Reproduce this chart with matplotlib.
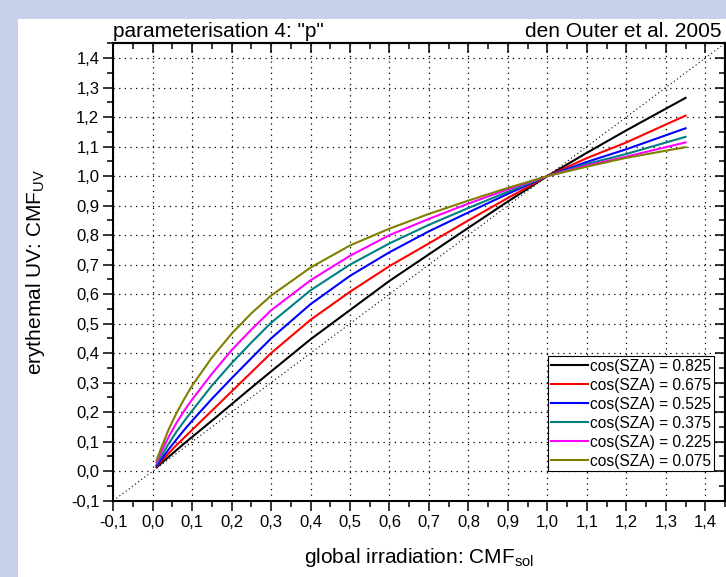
import matplotlib
matplotlib.use("Agg")
import matplotlib.pyplot as plt
from matplotlib.ticker import MultipleLocator, FuncFormatter
from matplotlib.patches import Rectangle

plt.rcParams['font.family'] = ['Liberation Sans', 'DejaVu Sans']
plt.rcParams['mathtext.fontset'] = 'custom'
plt.rcParams['mathtext.rm'] = 'Liberation Sans'
plt.rcParams['mathtext.it'] = 'Liberation Sans'

# values
cmf_sol = [0.01, 0.02, 0.04, 0.06, 0.08, 0.1, 0.15, 0.2, 0.25, 0.3, 0.4, 0.5,
           0.6, 0.7, 0.8, 0.9, 1.0, 1.1, 1.2, 1.35]
cmf_uv_0825 = [0.013, 0.025, 0.048, 0.071, 0.094, 0.116, 0.171, 0.227, 0.283, 0.338,
               0.447, 0.546, 0.645, 0.735, 0.825, 0.914, 1.0, 1.079, 1.155, 1.265]
cmf_uv_0675 = [0.016, 0.031, 0.060, 0.088, 0.114, 0.140, 0.205, 0.270, 0.335, 0.400,
               0.513, 0.608, 0.695, 0.772, 0.850, 0.926, 1.0, 1.061, 1.114, 1.205]
cmf_uv_0525 = [0.019, 0.037, 0.073, 0.107, 0.140, 0.171, 0.245, 0.315, 0.383, 0.450,
               0.566, 0.662, 0.742, 0.813, 0.877, 0.940, 1.0, 1.048, 1.091, 1.162]
cmf_uv_0375 = [0.024, 0.047, 0.092, 0.133, 0.170, 0.205, 0.290, 0.366, 0.436, 0.503,
               0.613, 0.700, 0.772, 0.835, 0.892, 0.947, 1.0, 1.041, 1.075, 1.133]
cmf_uv_0225 = [0.030, 0.060, 0.115, 0.163, 0.205, 0.243, 0.330, 0.410, 0.480, 0.545,
               0.647, 0.730, 0.800, 0.855, 0.907, 0.955, 1.0, 1.036, 1.066, 1.114]
cmf_uv_0075 = [0.037, 0.073, 0.140, 0.196, 0.245, 0.290, 0.385, 0.466, 0.535, 0.595,
               0.690, 0.765, 0.822, 0.872, 0.917, 0.960, 1.0, 1.032, 1.062, 1.098]

series = [cmf_uv_0825, cmf_uv_0675, cmf_uv_0525, cmf_uv_0375, cmf_uv_0225, cmf_uv_0075]
labels = ["cos(SZA) = 0.825", "cos(SZA) = 0.675", "cos(SZA) = 0.525",
          "cos(SZA) = 0.375", "cos(SZA) = 0.225", "cos(SZA) = 0.075"]
colors = ["#000000", "#ff0000", "#0000ff", "#008080", "#ff00ff", "#808000"]

fig = plt.figure(figsize=(7.26, 5.77), dpi=100, facecolor="#c8d0ec")
# white canvas, lavender frame only at left/top
fig.add_artist(Rectangle((18 / 726, 0), 1, 1 - 19 / 577, transform=fig.transFigure,
                         facecolor="white", edgecolor="none", zorder=-10))

ax = fig.add_axes([113.2 / 726, 76.3 / 577, 611.8 / 726, 457.4 / 577])
ax.set_xlim(-0.1, 1.45)
ax.set_ylim(-0.1, 1.45)

ax.grid(True, which="major", color="black", linestyle=(0, (1, 3.5)), linewidth=0.9)
ax.axline((0, 0), slope=1, color="black", linestyle=(0, (1, 2.5)), linewidth=0.8)

for y, lab, c in zip(series, labels, colors):
    ax.plot(cmf_sol, y, color=c, linewidth=1.5, label=lab)

fmt = FuncFormatter(lambda v, p: ("%.1f" % v).replace(".", ","))
for axis in (ax.xaxis, ax.yaxis):
    axis.set_major_locator(MultipleLocator(0.1))
    axis.set_minor_locator(MultipleLocator(0.05))
    axis.set_major_formatter(fmt)
ax.tick_params(which="major", direction="out", length=7, width=1.1, labelsize=12, pad=3)
ax.tick_params(which="minor", direction="out", length=4, width=1.1)
for s in ax.spines.values():
    s.set_linewidth(1.5)

# mirrored ticks on top and right point inwards
top = ax.secondary_xaxis("top")
right = ax.secondary_yaxis("right")
for sec, axis in ((top, top.xaxis), (right, right.yaxis)):
    axis.set_major_locator(MultipleLocator(0.1))
    axis.set_minor_locator(MultipleLocator(0.05))
    sec.tick_params(which="major", direction="in", length=7, width=1.1)
    sec.tick_params(which="minor", direction="in", length=4, width=1.1)
    sec.spines[:].set_linewidth(1.5)
top.tick_params(labeltop=False)
right.tick_params(labelright=False)

ax.set_xlabel(r"global irradiation: CMF$_{\mathrm{sol}}$", fontsize=15, labelpad=12)
ax.set_ylabel(r"erythemal UV: CMF$_{\mathrm{UV}}$", fontsize=15, labelpad=17)

ax.text(0.0, 1.004, 'parameterisation 4: "p"', transform=ax.transAxes,
        ha="left", va="bottom", fontsize=15)
ax.text(0.994, 1.004, "den Outer et al. 2005", transform=ax.transAxes,
        ha="right", va="bottom", fontsize=15)

leg = ax.legend(loc="lower right", bbox_to_anchor=(1.4217, 0.0),
                bbox_transform=ax.transData, borderaxespad=0, fontsize=11.2,
                handlelength=2.4, handletextpad=0.15, borderpad=0.15,
                labelspacing=0.26, fancybox=False, framealpha=1)
leg.get_frame().set_edgecolor("black")
leg.get_frame().set_linewidth(0.8)

fig.savefig("out.png", dpi=100, facecolor=fig.get_facecolor())
